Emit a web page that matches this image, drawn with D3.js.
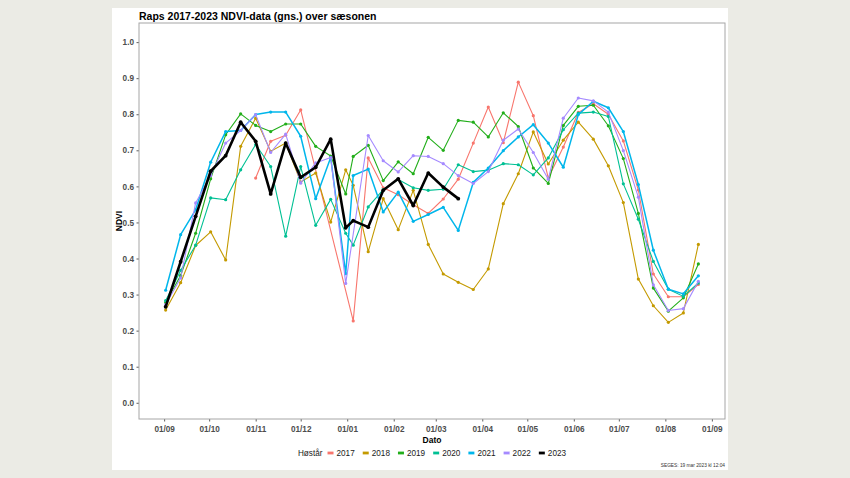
<!DOCTYPE html>
<html>
<head>
<meta charset="utf-8">
<script src="https://cdn.jsdelivr.net/npm/d3@7"></script>
<style>
  body { margin: 0; background: #ebebe5; }
  svg { display: block; font-family: "Liberation Sans", Arial, sans-serif; }
</style>
</head>
<body>
<div id="chart"></div>
<script>
// dekad-ish dates of the season (Sep -> Aug), year is only a placeholder
var dates = ["2001-09-02","2001-09-12","2001-09-22","2001-10-02","2001-10-12","2001-10-22",
  "2001-11-01","2001-11-11","2001-11-21","2001-12-01","2001-12-11","2001-12-21","2001-12-31",
  "2002-01-05","2002-01-15","2002-01-25","2002-02-04","2002-02-14","2002-02-24","2002-03-06",
  "2002-03-16","2002-03-26","2002-04-05","2002-04-15","2002-04-25","2002-05-05","2002-05-15",
  "2002-05-25","2002-06-04","2002-06-14","2002-06-24","2002-07-04","2002-07-14","2002-07-24",
  "2002-08-03","2002-08-13","2002-08-23"];

var years = ["2017", "2018", "2019", "2020", "2021", "2022", "2023"];
var colors = ["#F8766D", "#C49A00", "#22AE1A", "#00C094", "#00B6EB", "#A58AFF", "#000000"];

var ndvi2017 = [null,null,null,null,null,null,0.623,0.725,0.742,0.812,null,null,null,
  0.227,0.679,0.596,0.577,0.549,0.525,0.565,0.620,0.720,0.820,0.721,0.889,0.796,0.623,
  0.709,0.805,0.829,0.800,0.726,0.590,0.357,0.294,0.294,0.328];
var ndvi2018 = [0.257,0.333,0.436,0.474,0.396,0.711,0.789,0.697,0.720,0.612,0.637,0.501,0.646,
  0.603,0.419,0.566,0.480,0.589,0.439,0.357,0.334,0.314,0.371,0.552,0.635,0.751,0.662,
  0.728,0.778,0.731,0.657,0.555,0.343,0.269,0.223,0.249,0.439];
var ndvi2019 = [0.278,0.353,0.470,0.621,0.743,0.801,0.769,0.752,0.773,0.773,0.711,0.684,0.579,
  0.683,0.714,0.616,0.668,0.635,0.736,0.700,0.783,0.778,0.737,0.804,0.766,0.651,0.608,
  0.769,0.822,0.825,0.768,0.677,0.525,0.318,0.254,0.291,0.385];
var ndvi2020 = [0.283,0.367,0.437,0.568,0.563,0.646,0.716,0.655,0.462,0.655,0.492,0.564,0.470,
  0.437,0.543,0.591,0.619,0.596,0.589,0.592,0.660,0.641,0.645,0.663,0.660,0.632,0.679,
  0.757,0.803,0.806,0.794,0.607,0.509,0.392,0.315,0.295,0.332];
var ndvi2021 = [0.312,0.466,0.535,0.667,0.752,0.755,0.799,0.806,0.806,0.739,0.566,0.680,0.358,
  0.630,0.648,0.529,0.584,0.503,0.522,0.542,0.478,0.611,0.651,0.699,0.737,0.771,0.720,
  0.653,0.799,0.836,0.818,0.752,0.605,0.423,0.315,0.302,0.352];
var ndvi2022 = [0.272,0.346,0.554,0.630,0.720,0.755,0.799,0.694,0.745,0.609,0.665,0.680,0.331,
  null,0.741,0.671,0.640,0.685,0.683,0.663,0.630,0.608,0.641,0.728,0.759,0.694,0.620,
  0.789,0.845,0.837,0.806,0.699,0.570,0.327,0.256,0.261,0.337];
var ndvi2023 = [0.266,0.391,0.517,0.642,0.685,0.778,0.725,0.579,0.720,0.625,0.653,0.731,0.485,
  0.505,0.487,0.589,0.621,0.547,0.637,0.598,0.566,null,null,null,null,null,null,
  null,null,null,null,null,null,null,null,null,null];

var yTicks = [0, 0.1, 0.2, 0.3, 0.4, 0.5, 0.6, 0.7, 0.8, 0.9, 1.0];

var W = 850, H = 478;
var panel = { left: 139, top: 23, right: 725, bottom: 419 };

var svg = d3.select("#chart").append("svg").attr("width", W).attr("height", H);

// white card
svg.append("rect").attr("x", 112).attr("y", 8).attr("width", 616).attr("height", 462).attr("fill", "#ffffff");

var parse = d3.timeParse("%Y-%m-%d");
var dts = dates.map(parse);
var series = [ndvi2017, ndvi2018, ndvi2019, ndvi2020, ndvi2021, ndvi2022, ndvi2023].map(function(vals, k) {
  return {
    year: years[k],
    color: colors[k],
    points: vals.map(function(v, i) { return { date: dts[i], v: v }; })
      .filter(function(p) { return p.v !== null; })
  };
});

// ggplot style 5% expansion of the date range
var ext = d3.extent(dts);
var pad = (ext[1] - ext[0]) * 0.05;
var x = d3.scaleTime()
  .domain([new Date(+ext[0] - pad), new Date(+ext[1] + pad)])
  .range([panel.left, panel.right]);
var y = d3.scaleLinear().domain([-0.045, 1.053]).range([panel.bottom, panel.top]);

// axes
var xAxis = d3.axisBottom(x)
  .tickValues(d3.timeMonth.range(parse("2001-09-01"), parse("2002-09-02")))
  .tickFormat(d3.timeFormat("%d/%m"))
  .tickSize(2.5).tickPadding(5);
var gx = svg.append("g").attr("transform", "translate(0," + panel.bottom + ")").call(xAxis);

var yAxis = d3.axisLeft(y).tickValues(yTicks).tickFormat(d3.format(".1f")).tickSize(2.5).tickPadding(2.5);
var gy = svg.append("g").attr("transform", "translate(" + panel.left + ",0)").call(yAxis);

[gx, gy].forEach(function(g) {
  g.select(".domain").remove();
  g.selectAll(".tick line").attr("stroke", "#333333").attr("stroke-width", 0.8);
  g.selectAll(".tick text").attr("fill", "#4d4d4d").attr("font-size", 8.2).attr("font-weight", "bold")
    .attr("font-family", "Liberation Sans, Arial, sans-serif");
});

// panel border
svg.append("rect")
  .attr("x", panel.left).attr("y", panel.top)
  .attr("width", panel.right - panel.left).attr("height", panel.bottom - panel.top)
  .attr("fill", "none").attr("stroke", "#a6a6a6").attr("stroke-width", 1);

var line = d3.line()
  .x(function(d) { return x(d.date); })
  .y(function(d) { return y(d.v); });

var g = svg.append("g");
series.forEach(function(s) {
  var lw = s.year === "2023" ? 2.6 : (s.year === "2021" ? 1.5 : 1.1);
  g.append("path").datum(s.points)
    .attr("d", line)
    .attr("fill", "none")
    .attr("stroke", s.color)
    .attr("stroke-width", lw)
    .attr("stroke-linejoin", "round");
  g.selectAll(null).data(s.points).enter().append("circle")
    .attr("cx", function(d) { return x(d.date); })
    .attr("cy", function(d) { return y(d.v); })
    .attr("r", s.year === "2023" ? 1.9 : 1.6)
    .attr("fill", s.color);
});

// titles
svg.append("text").attr("x", panel.left).attr("y", 19.5)
  .attr("font-size", 10.5).attr("font-weight", "bold").attr("fill", "#000")
  .text("Raps 2017-2023 NDVI-data (gns.) over sæsonen");

svg.append("text").attr("x", (panel.left + panel.right) / 2).attr("y", 443)
  .attr("text-anchor", "middle").attr("font-size", 8.5).attr("font-weight", "bold")
  .text("Dato");

svg.append("text")
  .attr("transform", "translate(122," + ((panel.top + panel.bottom) / 2) + ") rotate(-90)")
  .attr("text-anchor", "middle").attr("font-size", 8.5).attr("font-weight", "bold")
  .text("NDVI");

// legend
var lg = svg.append("g");
var lx = 0;
var ttl = lg.append("text").attr("x", 0).attr("y", 456).attr("font-size", 8.2).attr("fill", "#1a1a1a").text("Høstår");
lx = ttl.node().getComputedTextLength() + 5;
series.forEach(function(s) {
  lg.append("line").attr("x1", lx).attr("x2", lx + 6).attr("y1", 453).attr("y2", 453)
    .attr("stroke", s.color).attr("stroke-width", 2.8);
  var t = lg.append("text").attr("x", lx + 9).attr("y", 456).attr("font-size", 8.2).attr("fill", "#1a1a1a").text(s.year);
  lx += 9 + t.node().getComputedTextLength() + 8;
});
var lw = lx - 8;
lg.attr("transform", "translate(" + ((panel.left + panel.right) / 2 - lw / 2) + ",0)");

// footer
svg.append("text").attr("x", 725).attr("y", 466.5).attr("text-anchor", "end")
  .attr("font-size", 4.8).attr("fill", "#333").text("SEGES:  19 mar 2023 kl 12:04");
</script>
</body>
</html>
